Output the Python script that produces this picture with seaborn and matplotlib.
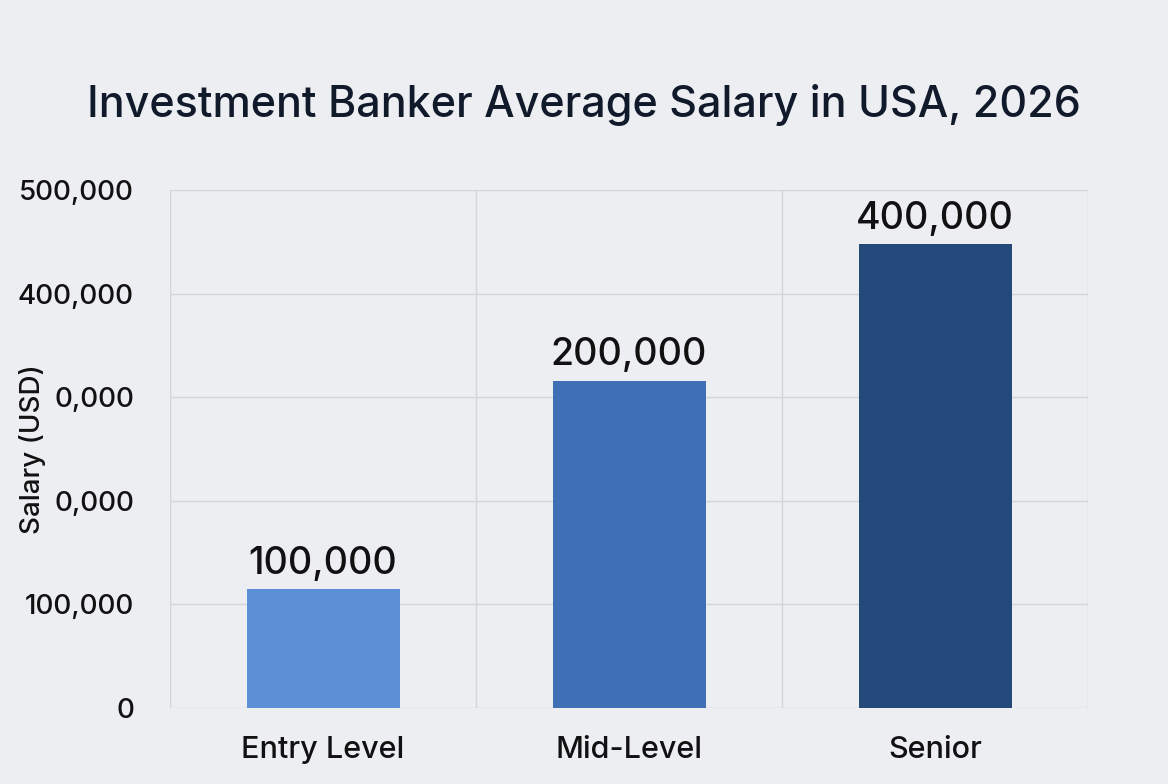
import matplotlib
matplotlib.use("Agg")
import matplotlib.pyplot as plt
import seaborn as sns
import pandas as pd

categories = ["Entry Level", "Mid-Level", "Senior"]
bar_heights = [115000, 316000, 448000]
bar_labels = ["100,000", "200,000", "400,000"]
tick_values = [0, 100000, 200000, 300000, 400000, 500000]
tick_labels = ["0", "100,000", "0,000", "0,000", "400,000", "500,000"]
colors = ["#5b8fd6", "#3f6fb5", "#24497b"]

sns.set_theme(style="white")
plt.rcParams['font.family'] = ['Inter', 'DejaVu Sans']

fig = plt.figure(figsize=(11.68, 7.84), dpi=100)
fig.patch.set_facecolor("#eceef1")
ax = fig.add_axes([170/1168, 1-708/784, (1088-170)/1168, (708-190)/784])
ax.set_facecolor("#eceef1")

df = pd.DataFrame({"cat": categories, "val": bar_heights})
sns.barplot(data=df, x="cat", y="val", hue="cat", palette=colors, width=0.5,
            legend=False, ax=ax, saturation=1, linewidth=0)

ax.set_ylim(0, 500000)
ax.set_xlim(-0.5, 2.5)
ax.set_yticks(tick_values)
ax.set_yticklabels(tick_labels, fontsize=20, color="#111", fontweight="medium")
ax.tick_params(axis="x", labelsize=22, colors="#111", pad=14)
for lbl in ax.get_xticklabels():
    lbl.set_fontweight("medium")
ax.tick_params(axis="y", pad=26, length=0)
ax.set_xlabel("")
ax.set_ylabel("Salary (USD)", fontsize=20, color="#111", fontweight="medium")
ax.yaxis.set_label_coords(-0.135, 0.5)
for y in tick_values:
    ax.axhline(y, color="#d2d5d9", lw=1, zorder=0)
for x in [-0.5, 0.5, 1.5, 2.5]:
    ax.axvline(x, color="#d2d5d9", lw=1, zorder=0)
for s in ax.spines.values():
    s.set_visible(False)
for i, (h, t) in enumerate(zip(bar_heights, bar_labels)):
    ax.text(i, h + 7000, t, ha="center", va="bottom", fontsize=27,
            color="#111", fontweight="medium")

fig.text(0.5, 1-105/784, "Investment Banker Average Salary in USA, 2026",
         ha="center", va="center", fontsize=31, color="#111a2b", fontweight="medium")
fig.savefig("out.png", dpi=100, facecolor=fig.get_facecolor())
